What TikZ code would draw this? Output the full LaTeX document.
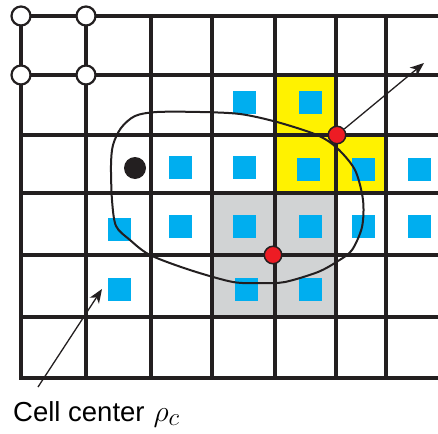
\documentclass[tikz,border=0pt]{standalone}
\usepackage{graphicx}
\usepackage{fontspec}
\newfontfamily\labelfont{Liberation Sans}
\usetikzlibrary{arrows.meta}
\definecolor{gridink}{HTML}{231F20}
\definecolor{cyanbox}{HTML}{00AEEF}
\definecolor{yellowcell}{HTML}{FFF200}
\definecolor{greycell}{HTML}{D1D3D4}
\definecolor{reddot}{HTML}{ED1C24}
\begin{document}
\begin{tikzpicture}[x=1pt,y=-1pt,
 gridline/.style={draw=gridink, line width=3.2pt, line cap=rect},
 bluesq/.style={rectangle, fill=cyanbox, minimum size=23pt, inner sep=0pt},
 hollow/.style={circle, draw=gridink, fill=white, line width=2.2pt, minimum size=19pt, inner sep=0pt},
 reddotst/.style={circle, fill=reddot, draw=gridink, line width=1.5pt, minimum size=17.5pt, inner sep=0pt},
 blackdot/.style={circle, fill=gridink, minimum size=22pt, inner sep=0pt},
 pointer/.style={draw=gridink, line width=1.3pt, -{Stealth[length=14pt,width=11pt,inset=4pt]}},
 boundary/.style={draw=gridink, line width=2pt}
]
\useasboundingbox (0,0) rectangle (438,433);
% highlighted cells
\fill[yellowcell] (275,75) rectangle (336,193);
\fill[yellowcell] (336,135) rectangle (386,193);
\fill[greycell] (212,193) rectangle (336,317);
% grid
\foreach \y in {16,75,135,193,255,317,378} \draw[gridline] (21,\y) -- (442,\y);
\foreach \x in {21,86,151,212,275,336} \draw[gridline] (\x,16) -- (\x,378);
\draw[gridline, line width=4.5pt] (386,16) -- (386,378);
% cell centers
\node[bluesq] (s1) at (244,102.5) {};
\node[bluesq] (s2) at (310.5,102.5) {};
\node[bluesq] (s3) at (180.5,167) {};
\node[bluesq] (s4) at (244,167) {};
\node[bluesq] (s5) at (308,169) {};
\node[bluesq] (s6) at (363,169) {};
\node[bluesq] (s7) at (419,169) {};
\node[bluesq] (s8) at (119,229) {};
\node[bluesq] (s9) at (180.5,226) {};
\node[bluesq] (s10) at (244,226) {};
\node[bluesq] (s11) at (310.5,226) {};
\node[bluesq] (s12) at (363,226) {};
\node[bluesq] (s13) at (419,226) {};
\node[bluesq] (s14) at (119,289) {};
\node[bluesq] (s15) at (246,289) {};
\node[bluesq] (s16) at (310.5,289) {};
% interface curve
\draw[boundary] plot[smooth cycle, tension=0.5] coordinates {
 (112,200) (111,165) (113,145) (121,128) (135,116) (157,112) (200,112)
 (240,114) (277,122) (317,135) (337,148) (355,170) (363,200) (362,227)
 (352,250) (338,261) (318,272) (285,282) (262,283) (233,282) (190,270)
 (150,255) (130,240) (116,226)};
% nodes of the grid
\node[hollow] (h1) at (21,16) {};
\node[hollow] (h2) at (86,16) {};
\node[hollow] (h3) at (21,75) {};
\node[hollow] (h4) at (86,75) {};
\node[blackdot] (bd) at (135,168) {};
\node[reddotst] (r1) at (337,135) {};
\node[reddotst] (r2) at (273,255) {};
% arrows
\coordinate (t1) at (424,63);
\draw[pointer] (r1) -- (t1);
\coordinate (a2) at (38,387);
\coordinate (t2) at (102,289);
\draw[pointer] (a2) -- (t2);
% label
\node[anchor=base west, inner sep=0pt, font=\labelfont\fontsize{27.5}{32}\selectfont] (lbl) at (13,421) {Cell center\hspace{9pt}\fontsize{24.88}{30}\selectfont\scalebox{1.2}{$\rho_c$}};
\end{tikzpicture}
\end{document}
